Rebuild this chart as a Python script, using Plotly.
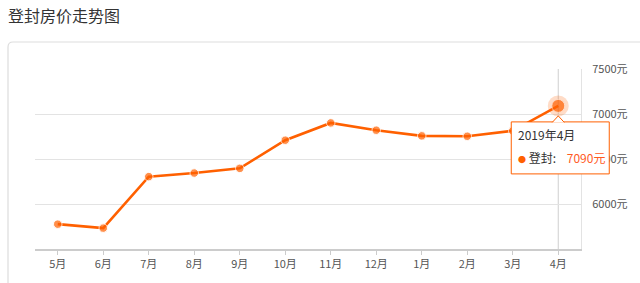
import plotly.graph_objects as go

months = ["5月", "6月", "7月", "8月", "9月", "10月", "11月", "12月", "1月", "2月", "3月", "4月"]
prices = [5776, 5732, 6304, 6344, 6396, 6709, 6901, 6820, 6757, 6753, 6813, 7090]
y_ticks = [6000, 6500, 7000, 7500]
title_text = "登封房价走势图"
city = "登封"
tip_date = "2019年4月"

ORANGE = "#ff6000"
FONT = "Noto Sans CJK SC"
Y_MIN, Y_MAX = 5500, 7500

n = len(months)
sizes = [8.5] * (n - 1) + [13]

# paper-fraction anchor of the highlighted (last) point, so tooltip is not clipped
px_anchor = (n - 1 + 0.5) / n
py_anchor = (prices[-1] - Y_MIN) / (Y_MAX - Y_MIN)

fig = go.Figure()
fig.add_trace(go.Scatter(x=months, y=prices, mode="lines+markers",
                         line=dict(color=ORANGE, width=2.6),
                         marker=dict(size=sizes, color=ORANGE),
                         showlegend=False))
# halo around highlighted point
fig.add_trace(go.Scatter(x=[months[-1]], y=[prices[-1]], mode="markers",
                         marker=dict(size=21, color="rgba(255,96,0,0.22)"),
                         hoverinfo="skip", showlegend=False))

# axis pointer line
fig.add_shape(type="line", xref="x", yref="paper", x0=months[-1], x1=months[-1], y0=0, y1=1,
              line=dict(color="#cfcfcf", width=1), layer="below")
# outer card border
fig.add_shape(type="path", xref="paper", yref="paper", xsizemode="pixel", ysizemode="pixel",
              xanchor=0, yanchor=1,
              path="M -27,-260 L -27,22 Q -27,27 -22,27 L 640,27",
              line=dict(color="#dddddd", width=1.2))

# tooltip box
fig.add_shape(type="rect", xref="paper", yref="paper", xsizemode="pixel", ysizemode="pixel",
              xanchor=px_anchor, yanchor=py_anchor,
              x0=-47, x1=51, y0=-16, y1=-68,
              line=dict(color=ORANGE, width=1), fillcolor="white", layer="above")
fig.add_shape(type="path", xref="paper", yref="paper", xsizemode="pixel", ysizemode="pixel",
              xanchor=px_anchor, yanchor=py_anchor,
              path="M -6,-16.5 L 0,-10 L 6,-16.5",
              line=dict(color=ORANGE, width=1), fillcolor="white", layer="above")

fig.add_annotation(x=px_anchor, y=py_anchor, xref="paper", yref="paper", showarrow=False,
                   xanchor="left", yanchor="middle", xshift=-42, yshift=-29,
                   text=tip_date, font=dict(family=FONT, size=12, color="#333333"))
fig.add_annotation(x=px_anchor, y=py_anchor, xref="paper", yref="paper", showarrow=False,
                   xanchor="left", yanchor="middle", xshift=-42, yshift=-52,
                   text=f"<span style='color:{ORANGE};font-size:8px'>●</span> {city}:    "
                        f"<span style='color:#ff5a1f'>{prices[-1]}元</span>",
                   font=dict(family=FONT, size=12, color="#333333"))

fig.update_layout(
    width=640, height=283,
    margin=dict(l=35, r=57, t=69, b=33),
    paper_bgcolor="white", plot_bgcolor="white",
    title=dict(text=title_text, x=8 / 640, xref="container", xanchor="left",
               y=1 - 16 / 283, yref="container", yanchor="middle",
               font=dict(family=FONT, size=16, color="#333333")),
    font=dict(family=FONT, color="#666666"),
)
fig.update_xaxes(type="category", categoryorder="array", categoryarray=months,
                 range=[-0.5, n - 0.5],
                 showgrid=False, showline=True, linecolor="#cccccc", linewidth=1.5,
                 ticks="outside", ticklen=4, tickcolor="#cccccc",
                 tickfont=dict(size=11, color="#555555"), fixedrange=True)
fig.update_yaxes(side="right", range=[Y_MIN, Y_MAX], tickvals=y_ticks,
                 ticktext=[f"{v}元" for v in y_ticks],
                 showgrid=True, gridcolor="#e3e3e3", gridwidth=1,
                 showline=True, linecolor="#e3e3e3", zeroline=False, ticks="",
                 ticklabelstandoff=8,
                 tickfont=dict(size=11, color="#555555"), fixedrange=True)

fig.write_html("out.html")
